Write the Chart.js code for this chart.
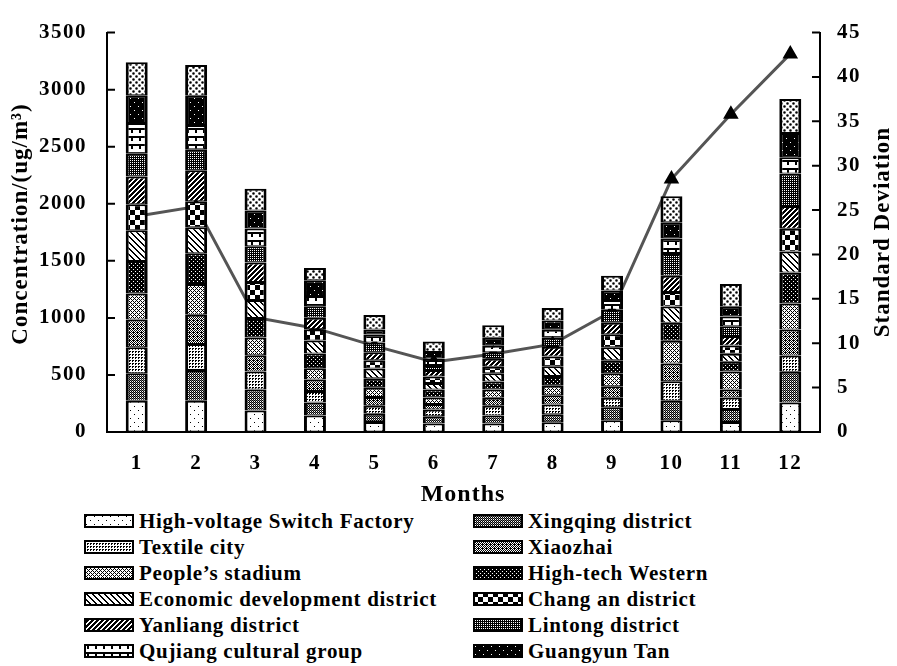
<!DOCTYPE html>
<html>
<head>
<meta charset="utf-8">
<script src="https://cdn.jsdelivr.net/npm/chart.js@4.4.0/dist/chart.umd.min.js"></script>
<style>
  html, body { margin: 0; padding: 0; background: #fff; width: 897px; height: 666px; overflow: hidden; }
  #wrap { position: relative; width: 897px; height: 508px; }
  #legend { position: absolute; left: 0; top: 508px; width: 897px; height: 158px;
            font: bold 21px "Liberation Serif", serif; color: #000; letter-spacing: 0.7px; }
  .item { position: absolute; height: 26px; display: flex; align-items: center; white-space: nowrap; }
  .item canvas { margin-right: 5px; }
</style>
</head>
<body>
<div id="wrap"><canvas id="chart" width="897" height="508"></canvas></div>
<div id="legend"></div>
<script>
// months on the x axis
const months = ['1', '2', '3', '4', '5', '6', '7', '8', '9', '10', '11', '12'];

// monthly concentration per monitoring site (ug/m3)
const highVoltage = [273, 273, 188, 145, 88, 74, 74, 85, 102, 102, 88, 259];
const xingqing    = [242, 270, 185, 114, 71, 63, 71, 71, 114, 171, 114, 270];
const textileCity = [228, 228, 157, 100, 71, 60, 85, 85, 85, 171, 100, 142];
const xiaozhai    = [242, 256, 142, 100, 77, 48, 71, 80, 100, 157, 71, 228];
const peoples     = [228, 270, 157, 100, 80, 57, 71, 85, 114, 199, 157, 228];
const highTech    = [285, 270, 171, 128, 85, 71, 71, 85, 114, 157, 85, 270];
const economic    = [270, 228, 157, 114, 85, 57, 71, 85, 114, 142, 71, 185];
const changan     = [228, 228, 157, 100, 71, 57, 57, 85, 114, 128, 71, 199];
const yanliang    = [242, 270, 171, 100, 71, 57, 71, 85, 100, 142, 85, 199];
const lintong     = [200, 185, 142, 100, 85, 43, 57, 80, 114, 199, 85, 285];
const qujiang     = [270, 213, 157, 91, 71, 57, 57, 71, 85, 128, 85, 142];
const guangyun    = [242, 256, 157, 137, 43, 57, 71, 80, 85, 142, 85, 213];
const caotan      = [290, 270, 191, 108, 128, 91, 108, 110, 128, 228, 199, 299];

// standard deviation (right axis)
const stdDev = [24.3, 25.4, 12.9, 11.7, 9.7, 7.9, 8.8, 9.9, 13.6, 28.5, 35.8, 42.6];

const concTicks = [0, 500, 1000, 1500, 2000, 2500, 3000, 3500];
const sdTicks = [0, 5, 10, 15, 20, 25, 30, 35, 40, 45];

const FONT = '"Liberation Serif", serif';

// ---- hatch patterns (Excel-like b/w fills) ----
function tile(w, h, bg, draw) {
  const c = document.createElement('canvas');
  c.width = w; c.height = h;
  const g = c.getContext('2d');
  g.fillStyle = bg; g.fillRect(0, 0, w, h);
  g.fillStyle = bg === '#fff' ? '#000' : '#fff';
  draw(g);
  return g.createPattern(c, 'repeat');
}
const px = (g, x, y) => g.fillRect(x, y, 1, 1);

const patterns = [
  tile(8, 8, '#fff', g => { px(g, 2, 2); px(g, 6, 6); }),                       // high-voltage
  tile(2, 2, '#fff', g => { px(g, 0, 0); px(g, 1, 1); g.fillStyle = '#777'; px(g, 1, 0); }), // xingqing
  tile(3, 3, '#fff', g => { px(g, 0, 0); px(g, 1, 0); px(g, 0, 1); }),         // textile
  tile(4, 4, '#fff', g => { for (let y = 0; y < 4; y++) for (let x = 0; x < 4; x++) if ((x + y) % 2 === 0) px(g, x, y); px(g, 1, 0); }), // xiaozhai
  tile(4, 4, '#fff', g => { [[0,0],[1,3],[2,2],[3,1],[1,1],[3,3]].forEach(p => px(g, p[0], p[1])); }), // people's
  tile(4, 4, '#000', g => { px(g, 1, 1); px(g, 3, 3); }),                       // high-tech
  tile(6, 6, '#fff', g => { g.fillStyle = '#000'; for (let i = -6; i < 12; i++) { px(g, i, i); px(g, i + 1, i); px(g, i + 6, i); px(g, i + 7, i); px(g, i - 6, i); px(g, i - 5, i); } }), // economic
  tile(10, 10, '#fff', g => { g.fillStyle = '#000'; g.fillRect(0, 0, 5, 5); g.fillRect(5, 5, 5, 5); }), // chang an
  tile(5, 5, '#fff', g => { g.fillStyle = '#000'; for (let y = 0; y < 5; y++) { const x = 4 - y; px(g, x, y); px(g, (x + 1) % 5, y); px(g, (x + 2) % 5, y); } }), // yanliang
  tile(2, 2, '#000', g => { px(g, 0, 0); }),                                    // lintong
  tile(8, 8, '#fff', g => { g.fillStyle = '#000'; g.fillRect(0, 0, 8, 2); g.fillRect(3, 2, 2, 3); }), // qujiang
  tile(8, 8, '#000', g => { px(g, 2, 2); px(g, 6, 6); }),                       // guangyun tan
  tile(6, 6, '#fff', g => { g.fillStyle = '#000'; g.beginPath(); g.arc(1.5, 1.5, 1.3, 0, 7); g.arc(4.5, 4.5, 1.3, 0, 7); g.fill(); }), // caotan
];

const sites = [
  ['High-voltage Switch Factory', highVoltage],
  ['Xingqing district', xingqing],
  ['Textile city', textileCity],
  ['Xiaozhai', xiaozhai],
  ['People\u2019s stadium', peoples],
  ['High-tech Western', highTech],
  ['Economic development district', economic],
  ['Chang an district', changan],
  ['Yanliang district', yanliang],
  ['Lintong district', lintong],
  ['Qujiang cultural group', qujiang],
  ['Guangyun Tan', guangyun],
  ['Caotan', caotan],
];

const barSets = sites.map(([label, data], i) => ({
  type: 'bar',
  label,
  data,
  backgroundColor: patterns[i],
  borderColor: '#000',
  borderWidth: { top: 2, bottom: 1, left: 3, right: 3 },
  borderSkipped: false,
  barPercentage: 0.37,
  categoryPercentage: 1,
  yAxisID: 'y',
  order: 1,
}));

const sdSet = {
  type: 'line',
  label: 'Standard Deviation',
  data: stdDev,
  yAxisID: 'y1',
  borderColor: '#555',
  borderWidth: 3,
  pointStyle: 'triangle',
  pointRadius: 6,
  pointBackgroundColor: '#000',
  pointBorderColor: '#000',
  tension: 0,
  order: 20,
};

// inward tick marks + axis titles drawn by hand
const decor = {
  id: 'decor',
  beforeDraw(chart) { chart.ctx.letterSpacing = '1.5px'; },
  afterDraw(chart) {
    const { ctx, chartArea: a, scales } = chart;
    ctx.save();
    ctx.letterSpacing = '0px';
    ctx.strokeStyle = '#000';
    ctx.lineWidth = 2;
    ctx.beginPath();
    concTicks.forEach(v => { const y = scales.y.getPixelForValue(v); ctx.moveTo(a.left, y); ctx.lineTo(a.left + 8, y); });
    sdTicks.forEach(v => { const y = scales.y1.getPixelForValue(v); ctx.moveTo(a.right - 8, y); ctx.lineTo(a.right, y); });
    ctx.stroke();

    ctx.fillStyle = '#000';
    ctx.textAlign = 'center';
    ctx.textBaseline = 'middle';
    ctx.font = 'bold 23px ' + FONT;
    ctx.letterSpacing = '1px';
    ctx.save(); ctx.translate(21, 224); ctx.rotate(-Math.PI / 2); ctx.fillText('Concentration/(ug/m\u00b3)', 0, 0); ctx.restore();
    ctx.save(); ctx.translate(883, 232); ctx.rotate(-Math.PI / 2); ctx.fillText('Standard Deviation', 0, 0); ctx.restore();
    ctx.font = 'bold 24px ' + FONT;
    ctx.fillText('Months', 463, 495);
    ctx.restore();
  },
};

const tickFont = { family: FONT, size: 21, weight: 'bold' };
const axisBorder = { display: true, width: 2, color: '#000' };
const noGrid = { display: true, drawOnChartArea: false, drawTicks: false };
const plain = v => String(v);

const chart = new Chart(document.getElementById('chart'), {
  data: { labels: months, datasets: [...barSets, sdSet] },
  options: {
    responsive: false,
    animation: false,
    layout: { padding: { top: 21, left: 0, right: 0, bottom: 0 } },
    plugins: { legend: { display: false }, tooltip: { enabled: false } },
    scales: {
      x: {
        stacked: true,
        grid: noGrid,
        border: axisBorder,
        ticks: { font: tickFont, color: '#000', padding: 19 },
        afterFit: s => { s.height = 76; },
      },
      y: {
        stacked: true,
        position: 'left',
        min: 0, max: 3500,
        grid: noGrid,
        border: axisBorder,
        ticks: { stepSize: 500, font: tickFont, color: '#000', padding: 20, callback: plain },
        afterFit: s => { s.width = 107; },
      },
      y1: {
        position: 'right',
        min: 0, max: 45,
        grid: noGrid,
        border: axisBorder,
        ticks: { stepSize: 5, font: tickFont, color: '#000', padding: 17, callback: plain },
        afterFit: s => { s.width = 77; },
      },
    },
  },
  plugins: [decor],
});

// two-column legend (row-wise, like the original), Caotan left out
const legend = document.getElementById('legend');
chart.data.datasets.slice(0, 12).forEach((ds, i) => {
  const item = document.createElement('div');
  item.className = 'item';
  item.style.left = (i % 2 ? 473 : 84) + 'px';
  item.style.top = (Math.floor(i / 2) * 26) + 'px';
  const sw = document.createElement('canvas');
  sw.width = 50; sw.height = 14;
  const g = sw.getContext('2d');
  g.fillStyle = '#000'; g.fillRect(0, 0, 50, 14);
  g.fillStyle = ds.backgroundColor; g.fillRect(2, 2, 46, 10);
  item.appendChild(sw);
  item.appendChild(document.createTextNode(ds.label));
  legend.appendChild(item);
});
</script>
</body>
</html>
